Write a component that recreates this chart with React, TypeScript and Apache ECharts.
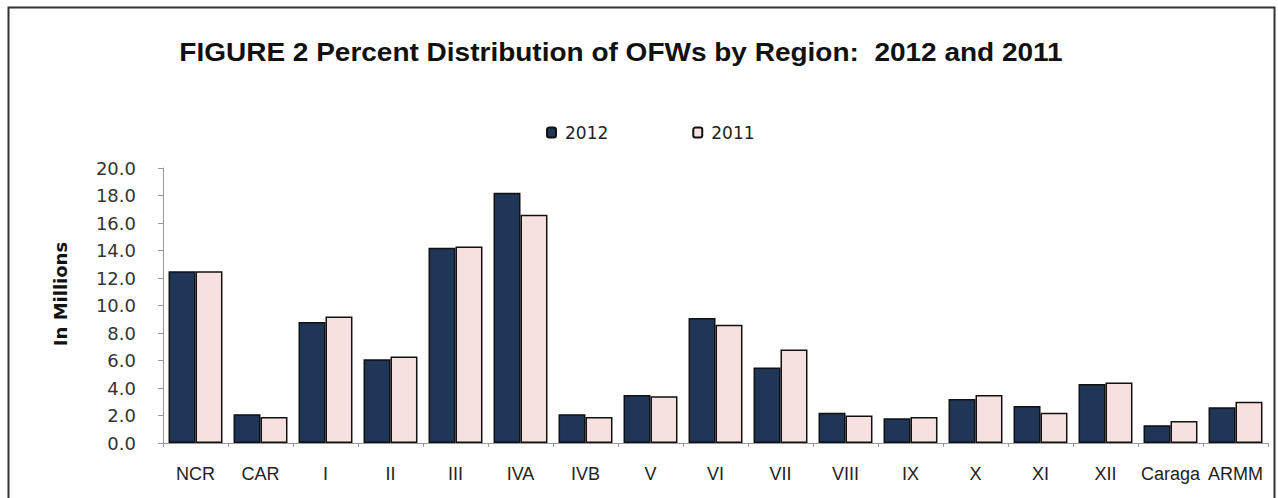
import React, { useEffect, useRef } from "react";
import * as echarts from "echarts";

const categories = ["NCR", "CAR", "I", "II", "III", "IVA", "IVB", "V", "VI", "VII", "VIII", "IX", "X", "XI", "XII", "Caraga", "ARMM"];
const values2012 = [12.5, 2.1, 8.8, 6.1, 14.2, 18.2, 2.1, 3.5, 9.1, 5.5, 2.2, 1.8, 3.2, 2.7, 4.3, 1.3, 2.6];
const values2011 = [12.5, 1.9, 9.2, 6.3, 14.3, 16.6, 1.9, 3.4, 8.6, 6.8, 2.0, 1.9, 3.5, 2.2, 4.4, 1.6, 3.0];
const titleText = "FIGURE 2 Percent Distribution of OFWs by Region:  2012 and 2011";
const yAxisName = "In Millions";

export default function App() {
  const ref = useRef<HTMLDivElement>(null);
  useEffect(() => {
    if (!ref.current) return;
    const chart = echarts.init(ref.current, null, { renderer: "svg" });
    chart.setOption({
      animation: false,
      backgroundColor: "#ffffff",
      textStyle: { fontFamily: "Liberation Sans, Arial, sans-serif" },
      graphic: [
        {
          type: "rect",
          shape: { x: 8.5, y: 7.5, width: 1266, height: 520 },
          style: { fill: "none", stroke: "#333", lineWidth: 2 },
          silent: true,
        },
        {
          type: "text",
          x: 621,
          y: 53,
          scaleX: 1.12,
          style: {
            text: titleText,
            align: "center",
            verticalAlign: "middle",
            fill: "#111",
            font: "bold 25px 'Liberation Sans', Arial, sans-serif",
          },
          silent: true,
        },
        {
          type: "text",
          x: 60,
          y: 294,
          rotation: Math.PI / 2,
          style: {
            text: yAxisName,
            align: "center",
            verticalAlign: "middle",
            fill: "#111",
            font: "bold 18px 'DejaVu Sans', sans-serif",
          },
          silent: true,
        },
      ],
      legend: {
        top: 119,
        left: 541,
        itemGap: 84,
        itemWidth: 9,
        itemHeight: 10,
        textStyle: { fontSize: 17, color: "#222", fontFamily: "DejaVu Sans, sans-serif", padding: [0, 0, 0, 4] },
        data: ["2012", "2011"],
      },
      grid: { left: 163, right: 10, top: 168, bottom: 55 },
      xAxis: {
        type: "category",
        data: categories,
        axisLine: { lineStyle: { color: "#999" } },
        axisTick: { show: true, lineStyle: { color: "#999" }, length: 4 },
        axisLabel: { interval: 0, hideOverlap: false, fontSize: 18, color: "#222", margin: 22, fontFamily: "Liberation Sans, Arial, sans-serif" },
      },
      yAxis: {
        type: "value",
        min: 0,
        max: 20,
        interval: 2,
        axisLine: { show: true, lineStyle: { color: "#999" } },
        axisTick: { show: true, lineStyle: { color: "#999" }, length: 5 },
        axisLabel: { fontSize: 18, color: "#333", margin: 27, fontFamily: "DejaVu Sans, sans-serif", formatter: (v: number) => v.toFixed(1) },
        splitLine: { show: false },
      },
      series: [
        {
          name: "2012",
          type: "bar",
          data: values2012,
          barGap: "0%",
          barCategoryGap: "17%",
          itemStyle: { color: "#1f3658", borderColor: "#111", borderWidth: 1.5 },
        },
        {
          name: "2011",
          type: "bar",
          data: values2011,
          itemStyle: { color: "#f6e0e0", borderColor: "#111", borderWidth: 1.5 },
        },
      ],
    });
    return () => chart.dispose();
  }, []);
  return <div ref={ref} style={{ width: 1278, height: 498, position: "absolute", left: 0, top: 0 }} />;
}
